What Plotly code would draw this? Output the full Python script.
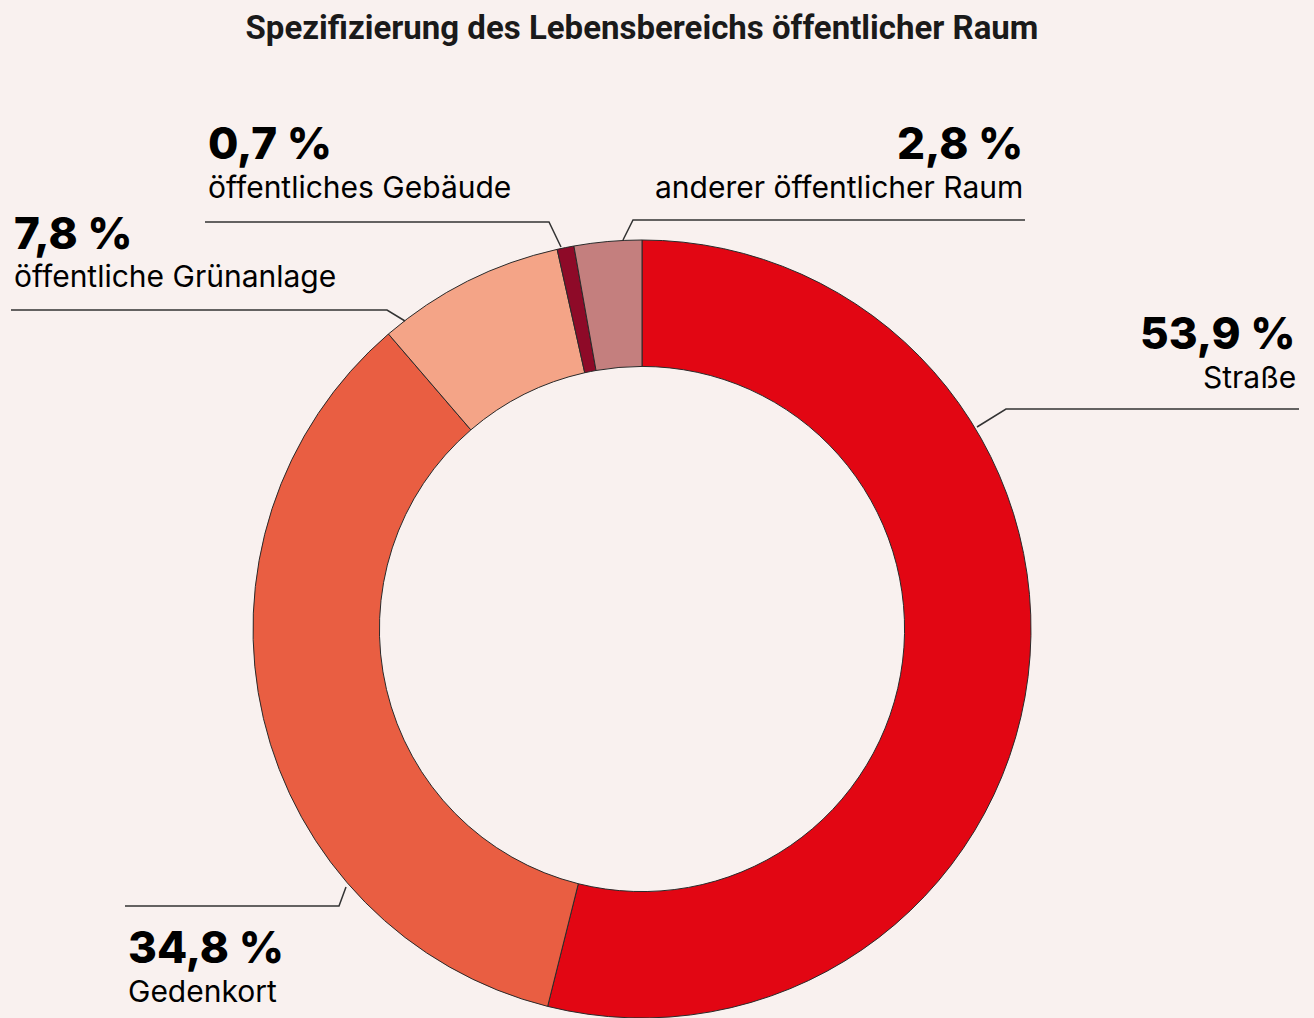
import plotly.graph_objects as go

W, H = 1314, 1018

categories = ["Straße", "Gedenkort", "öffentliche Grünanlage", "öffentliches Gebäude", "anderer öffentlicher Raum"]
values = [53.9, 34.8, 7.8, 0.7, 2.8]
pct_labels = ["53,9 %", "34,8 %", "7,8 %", "0,7 %", "2,8 %"]
colors = ["#E20613", "#E95E42", "#F4A487", "#8E0A28", "#C47F7E"]

BG = "#F9F1EF"
FONT = "Inter, Roboto, sans-serif"

def px(x):
    return x / W

def py(y):
    return 1 - y / H

fig = go.Figure()
fig.add_trace(go.Pie(
    labels=categories,
    values=values,
    sort=False,
    direction="clockwise",
    rotation=0,
    hole=0.675,
    marker=dict(colors=colors, line=dict(color="#2a2a2a", width=1)),
    textinfo="none",
    hoverinfo="label+percent",
    showlegend=False,
    domain=dict(x=[px(250), px(1034)], y=[0, py(240)]),
))

# label layout: anchor x, y-center of pct, y-center of name, xanchor, leader path points
label_layout = [
    dict(x=1298, yp=333, yn=377, xa="right", path=[(1299, 409), (1006, 409), (977, 427)]),
    dict(x=126, yp=947, yn=991, xa="left", path=[(125, 906), (339, 906), (346, 887)]),
    dict(x=12, yp=233, yn=276, xa="left", path=[(11, 310), (387, 310), (405, 321)]),
    dict(x=206, yp=143, yn=187, xa="left", path=[(205, 222), (549, 222), (561, 247)]),
    dict(x=1025, yp=143, yn=187, xa="right", path=[(1025, 220), (633, 220), (623, 240)]),
]

for cat, pct, lay in zip(categories, pct_labels, label_layout):
    fig.add_annotation(
        x=px(lay["x"]), y=py(lay["yp"]), xref="paper", yref="paper",
        xanchor=lay["xa"], yanchor="middle", showarrow=False,
        text=pct, font=dict(family=FONT, size=44, color="#000000", weight=800),
    )
    fig.add_annotation(
        x=px(lay["x"]), y=py(lay["yn"]), xref="paper", yref="paper",
        xanchor=lay["xa"], yanchor="middle", showarrow=False,
        text=cat, font=dict(family=FONT, size=30, color="#000000"),
    )
    pts = lay["path"]
    d = "M " + " L ".join(f"{px(a)},{py(b)}" for a, b in pts)
    fig.add_shape(type="path", path=d, xref="paper", yref="paper",
                  line=dict(color="#333333", width=1.5))

fig.update_layout(
    width=W, height=H,
    margin=dict(l=0, r=0, t=0, b=0),
    paper_bgcolor=BG, plot_bgcolor=BG,
    title=dict(text="<b>Spezifizierung des Lebensbereichs öffentlicher Raum</b>",
               x=642 / W, xanchor="center", y=1 - 27 / H, yanchor="middle",
               font=dict(family="Roboto, sans-serif", size=33, color="#1a1a1a")),
)

fig.write_html(
    "out.html",
    config={"displayModeBar": False},
    post_script="document.body.style.margin='0';document.body.style.padding='0';document.body.style.background='" + BG + "';",
)
